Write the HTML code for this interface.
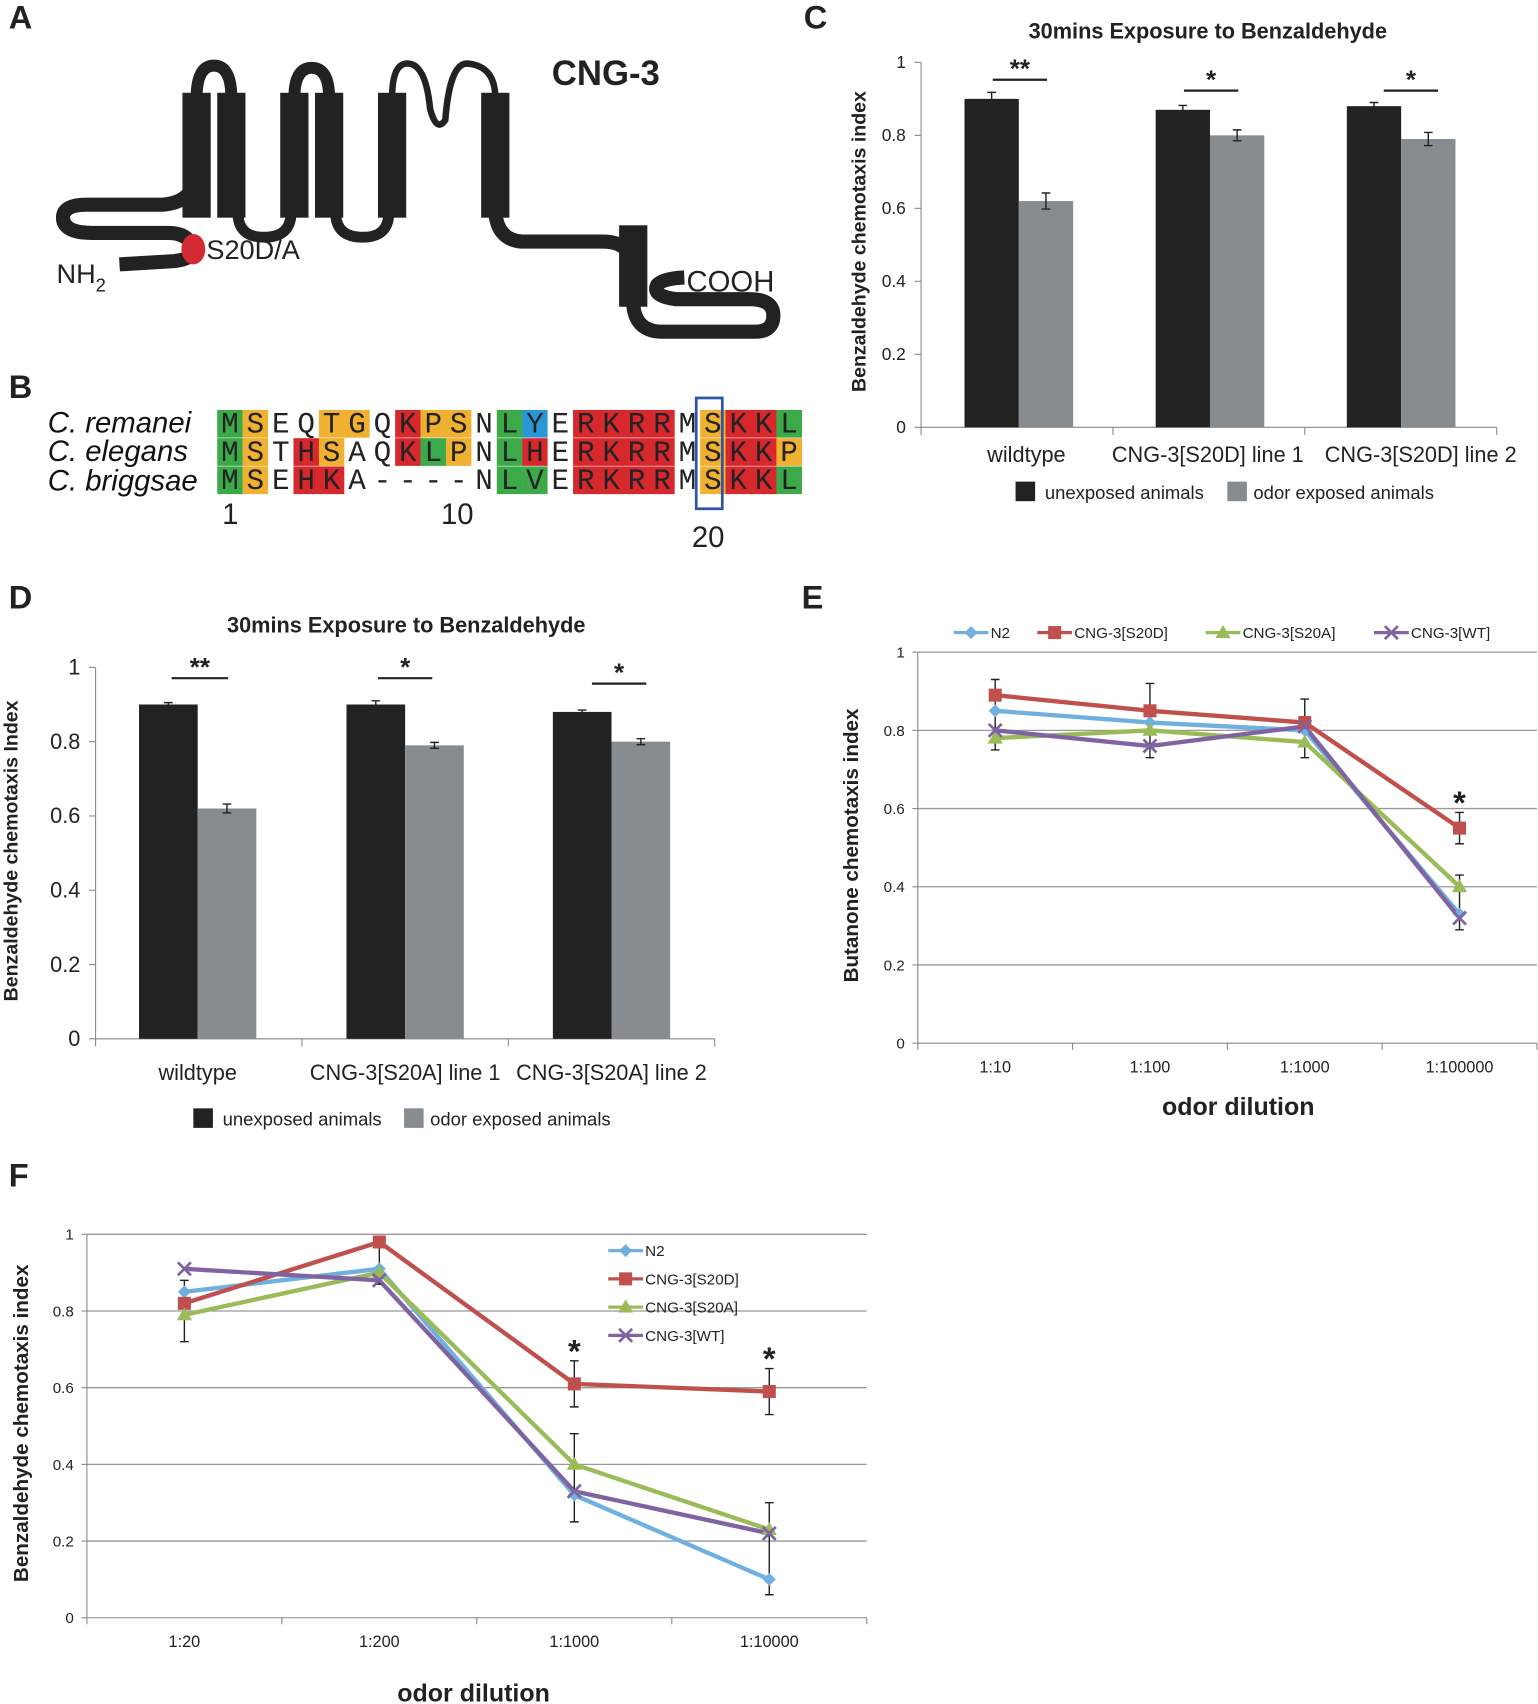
<!DOCTYPE html>
<html><head><meta charset="utf-8"><style>
html,body{margin:0;padding:0;background:#fff}
svg{display:block}
text{font-family:"Liberation Sans",Arial,sans-serif}
#seq text{font-family:"Liberation Mono","Courier New",monospace}
</style></head><body>
<svg width="1538" height="1704" viewBox="0 0 1416 1568" xmlns="http://www.w3.org/2000/svg">
<rect width="1416" height="1568" fill="#fff"/>
<g font-weight="bold" font-size="30" fill="#222">
<text x="8" y="26">A</text><text x="8" y="366">B</text><text x="740" y="26">C</text>
<text x="8" y="560">D</text><text x="738" y="560">E</text><text x="8" y="1092">F</text>
</g>
<!-- Panel A -->
<g fill="none" stroke="#222" stroke-linecap="butt">
<path d="M110,243 L160,240 Q178,238 177,230" stroke-width="13"/>
<path d="M177,226 Q172,214 155,214 L85,214 Q58,214 58,200 Q58,188 80,188 L150,188 Q178,186 180,160" stroke-width="13"/>
<path d="M181,90 Q181,60 197,60 Q213,60 213,90" stroke-width="11"/>
<path d="M219,195 Q219,218 243,218 Q268,218 268,195" stroke-width="10"/>
<path d="M271,90 Q271,62 287,62 Q303,62 303,90" stroke-width="11"/>
<path d="M309,195 Q309,218 334,218 Q358,218 358,195" stroke-width="10"/>
<path d="M361,90 Q361,58 375,58 Q392,58 396,100 Q402,122 410,110 Q414,58 430,58 Q456,60 456,90" stroke-width="6"/>
<path d="M456,195 Q458,220 480,222 L555,222 Q583,222 583,250" stroke-width="13"/>
<path d="M583,280 Q585,305 610,305 L695,305 Q712,305 712,290 Q712,275 690,275 L622,275 Q600,272 605,262 Q610,256 630,255" stroke-width="13"/>
</g>
<g fill="#222">
<rect x="168" y="85" width="26" height="115"/><rect x="200" y="85" width="26" height="115"/>
<rect x="258" y="85" width="26" height="115"/><rect x="290" y="85" width="26" height="115"/>
<rect x="348" y="85" width="26" height="115"/><rect x="443" y="85" width="26" height="115"/>
<rect x="570" y="207" width="26" height="75"/>
</g>
<ellipse cx="178" cy="229" rx="11" ry="14" fill="#d22c32"/>
<text x="190" y="238" font-size="25" fill="#222">S20D/A</text>
<text x="52" y="260" font-size="25" fill="#222">NH<tspan font-size="17" dy="8">2</tspan></text>
<text x="632" y="268" font-size="27" fill="#222">COOH</text>
<text x="508" y="78" font-size="32" font-weight="bold" fill="#222">CNG-3</text>
<!-- Panel B -->
<g font-size="27" font-style="italic" fill="#111">
<text x="44" y="398">C. remanei</text><text x="44" y="424">C. elegans</text><text x="44" y="451">C. briggsae</text>
</g>
<g id="seq" font-size="27" text-anchor="middle" fill="#222"></g>
<rect x="641" y="366" width="24" height="102" fill="none" stroke="#2e55a8" stroke-width="2.5"/>
<g font-size="27" fill="#222" text-anchor="middle">
<text x="212" y="482">1</text><text x="421" y="482">10</text><text x="652" y="503">20</text>
</g>
<g id="pc"></g><g id="pd"></g><g id="pe"></g><g id="pf"></g>
<script>
var NS="http://www.w3.org/2000/svg";
function el(p,t,a,txt){var e=document.createElementNS(NS,t);for(var k in a)e.setAttribute(k,a[k]);if(txt!=null)e.textContent=txt;p.appendChild(e);return e;}
var rows=[["MSEQTGQKPSNLYERKRRMSKKL","gowwoowroowgbwrrrrworrg"],
["MSTHSAQKLPNLHERKRRMSKKP","gowrowwrgowgrwrrrrworro"],
["MSEHKA----NLVERKRRMSKKL","gowrrwwwwwwggwrrrrworrg"]];
var col={g:"#3daa4a",o:"#f0b030",r:"#d7282e",b:"#2b96d6",w:"#fff"};
var sg=document.getElementById("seq");var ys=[377,403,429];
rows.forEach(function(r,i){for(var j=0;j<23;j++){var x=200+j*23.4;
 el(sg,"rect",{x:x,y:ys[i],width:23.6,height:25.5,fill:col[r[1][j]]});
 el(sg,"text",{x:x+11.7,y:ys[i]+21},r[0][j]);}});
function bar(g,o){
 var G=document.getElementById(g);
 el(G,"text",{x:o.tx,y:o.ty,"font-size":20,"font-weight":"bold","text-anchor":"middle",fill:"#222"},"30mins Exposure to Benzaldehyde");
 el(G,"line",{x1:o.x0,y1:o.y0,x2:o.x0,y2:o.y1,stroke:"#888"});
 el(G,"line",{x1:o.x0,y1:o.y0,x2:o.x2,y2:o.y0,stroke:"#888"});
 for(var i=0;i<=5;i++){var y=o.y0-(o.y0-o.y1)*i/5;
  el(G,"line",{x1:o.x0-6,y1:y,x2:o.x0,y2:y,stroke:"#888"});
  el(G,"text",{x:o.x0-14,y:y+o.fs/3,"font-size":o.fs,"text-anchor":"end",fill:"#222"},i==0?"0":i==5?"1":(i/5).toFixed(1));}
 for(var i=0;i<=3;i++){var x=o.x0+(o.x2-o.x0)*i/3;el(G,"line",{x1:x,y1:o.y0,x2:x,y2:o.y0+7,stroke:"#888"});}
 o.bars.forEach(function(b){
  [[b[0],b[1],"#222",b[3]],[b[0]+o.w,b[2],"#878c91",b[4]]].forEach(function(c){
   var y=o.y0-(o.y0-o.y1)*c[1];el(G,"rect",{x:c[0],y:y,width:o.w,height:o.y0-y,fill:c[2]});
   var e=(o.y0-o.y1)*c[3],cx=c[0]+o.w/2;
   el(G,"path",{d:"M"+cx+","+(y-e)+"V"+(y+e)+"M"+(cx-4)+","+(y-e)+"H"+(cx+4)+"M"+(cx-4)+","+(y+e)+"H"+(cx+4),stroke:"#222","stroke-width":1.3,fill:"none"});});
  el(G,"line",{x1:b[0]+b[5],y1:b[6],x2:b[0]+b[5]+b[7],y2:b[6],stroke:"#222","stroke-width":2});
  el(G,"text",{x:b[0]+b[5]+b[7]/2,y:b[6]-2,"font-size":24,"font-weight":"bold","text-anchor":"middle",fill:"#222"},b[8]);
  el(G,"text",{x:b[9],y:o.ly,"font-size":20,"text-anchor":"middle",fill:"#222"},b[10]);});
 el(G,"text",{x:0,y:0,"font-size":18,"font-weight":"bold","text-anchor":"middle",fill:"#222",transform:"translate("+o.ax+","+o.ay+") rotate(-90)"},o.axl);
 el(G,"rect",{x:o.lgx,y:o.lgy-15,width:18,height:18,fill:"#222"});
 el(G,"text",{x:o.lgx+27,y:o.lgy+1,"font-size":17,fill:"#222"},"unexposed animals");
 el(G,"rect",{x:o.lgx2,y:o.lgy-15,width:18,height:18,fill:"#878c91"});
 el(G,"text",{x:o.lgx2+24,y:o.lgy+1,"font-size":17,fill:"#222"},"odor exposed animals");
}
bar("pc",{tx:1112,ty:35,x0:848,x2:1378,y0:393,y1:57,w:50,fs:16,ly:425,ax:797,ay:222,axl:"Benzaldehyde chemotaxis index",lgx:935,lgx2:1130,lgy:458,
 bars:[[888,0.9,0.62,0.018,0.022,26,73,50,"**",945,"wildtype"],[1064,0.87,0.80,0.012,0.015,26,83,50,"*",1112,"CNG-3[S20D] line 1"],[1240,0.88,0.79,0.01,0.018,34,83,50,"*",1308,"CNG-3[S20D] line 2"]]});
bar("pd",{tx:374,ty:582,x0:88,x2:658,y0:956,y1:614,w:54,fs:20,ly:994,ax:16,ay:783,axl:"Benzaldehyde chemotaxis Index",lgx:178,lgx2:372,lgy:1035,
 bars:[[128,0.9,0.62,0.005,0.012,30,624,52,"**",182,"wildtype"],[319,0.9,0.79,0.01,0.008,29,624,50,"*",373,"CNG-3[S20A] line 1"],[509,0.88,0.80,0.005,0.008,36,629,50,"*",563,"CNG-3[S20A] line 2"]]});
var C=["#70b0e0","#c0504d","#9bbb59","#8064a2"],N=["N2","CNG-3[S20D]","CNG-3[S20A]","CNG-3[WT]"],M=["d","s","t","x"];
function mark(G,t,x,y,c){
 if(t=="d")el(G,"path",{d:"M"+x+","+(y-6)+"L"+(x+6)+","+y+"L"+x+","+(y+6)+"L"+(x-6)+","+y+"Z",fill:c});
 else if(t=="s")el(G,"rect",{x:x-6,y:y-6,width:12,height:12,fill:c});
 else if(t=="t")el(G,"path",{d:"M"+x+","+(y-7)+"L"+(x+7)+","+(y+5)+"L"+(x-7)+","+(y+5)+"Z",fill:c});
 else el(G,"path",{d:"M"+(x-6)+","+(y-6)+"L"+(x+6)+","+(y+6)+"M"+(x+6)+","+(y-6)+"L"+(x-6)+","+(y+6),stroke:c,"stroke-width":2.5});
}
function lc(g,o){
 var G=document.getElementById(g);var Y=function(v){return o.y0-(o.y0-o.y1)*v;};
 for(var i=1;i<=5;i++)el(G,"line",{x1:o.x0,y1:Y(i/5),x2:o.x2,y2:Y(i/5),stroke:"#999","stroke-width":1.2});
 el(G,"line",{x1:o.x0,y1:o.y0,x2:o.x0,y2:o.y1,stroke:"#888"});
 el(G,"line",{x1:o.x0,y1:o.y0,x2:o.x2,y2:o.y0,stroke:"#888"});
 for(var i=0;i<=5;i++){el(G,"line",{x1:o.x0-5,y1:Y(i/5),x2:o.x0,y2:Y(i/5),stroke:"#888"});
  el(G,"text",{x:o.x0-12,y:Y(i/5)+5,"font-size":14,"text-anchor":"end",fill:"#222"},i==0?"0":i==5?"1":(i/5).toFixed(1));}
 var step=(o.x2-o.x0)/4;
 for(var i=0;i<=4;i++)el(G,"line",{x1:o.x0+i*step,y1:o.y0,x2:o.x0+i*step,y2:o.y0+6,stroke:"#888"});
 o.cats.forEach(function(c,i){el(G,"text",{x:o.x0+step*(i+.5),y:o.y0+27,"font-size":15,"text-anchor":"middle",fill:"#222"},c);});
 o.d.forEach(function(s,k){var p=s.map(function(v,i){return (o.x0+step*(i+.5))+","+Y(v);}).join(" ");
  el(G,"polyline",{points:p,fill:"none",stroke:C[k],"stroke-width":4});});
 o.err.forEach(function(e){var x=o.x0+step*(e[0]+.5);el(G,"path",{d:"M"+x+","+Y(e[1])+"V"+Y(e[2])+"M"+(x-4)+","+Y(e[1])+"H"+(x+4)+"M"+(x-4)+","+Y(e[2])+"H"+(x+4),stroke:"#222","stroke-width":1.3});});
 o.d.forEach(function(s,k){s.forEach(function(v,i){mark(G,M[k],o.x0+step*(i+.5),Y(v),C[k]);});});
 o.stars.forEach(function(s){el(G,"text",{x:o.x0+step*(s[0]+.5),y:Y(s[1])+12,"font-size":30,"font-weight":"bold","text-anchor":"middle",fill:"#222"},"*");});
 el(G,"text",{x:0,y:0,"font-size":19,"font-weight":"bold","text-anchor":"middle",fill:"#222",transform:"translate("+o.ax+","+o.ay+") rotate(-90)"},o.axl);
 el(G,"text",{x:o.xlx,y:o.xly,"font-size":23,"font-weight":"bold","text-anchor":"middle",fill:"#222"},"odor dilution");
 o.leg.forEach(function(l,k){el(G,"line",{x1:l[0],y1:l[1],x2:l[0]+32,y2:l[1],stroke:C[k],"stroke-width":3});mark(G,M[k],l[0]+16,l[1],C[k]);
  el(G,"text",{x:l[0]+34,y:l[1]+5,"font-size":14,fill:"#222"},N[k]);});
}
lc("pe",{x0:845,x2:1415,y0:960,y1:600,cats:["1:10","1:100","1:1000","1:100000"],
 d:[[.85,.82,.80,.33],[.89,.85,.82,.55],[.78,.80,.77,.40],[.80,.76,.81,.32]],
 err:[[0,.75,.93],[1,.73,.92],[2,.73,.88],[3,.29,.43],[3,.51,.59]],stars:[[3,.62]],
 ax:790,ay:778,axl:"Butanone chemotaxis index",xlx:1140,xly:1026,
 leg:[[878,582],[955,582],[1110,582],[1265,582]]});
lc("pf",{x0:80,x2:798,y0:1489,y1:1136,cats:["1:20","1:200","1:1000","1:10000"],
 d:[[.85,.91,.32,.10],[.82,.98,.61,.59],[.79,.90,.40,.23],[.91,.88,.33,.22]],
 err:[[0,.72,.88],[1,.87,.97],[2,.25,.48],[2,.55,.67],[3,.06,.30],[3,.53,.65]],stars:[[2,.70],[3,.68]],
 ax:26,ay:1310,axl:"Benzaldehyde chemotaxis index",xlx:436,xly:1566,
 leg:[[560,1151],[560,1177],[560,1203],[560,1229]]});
</script>
</svg>
</body></html>
